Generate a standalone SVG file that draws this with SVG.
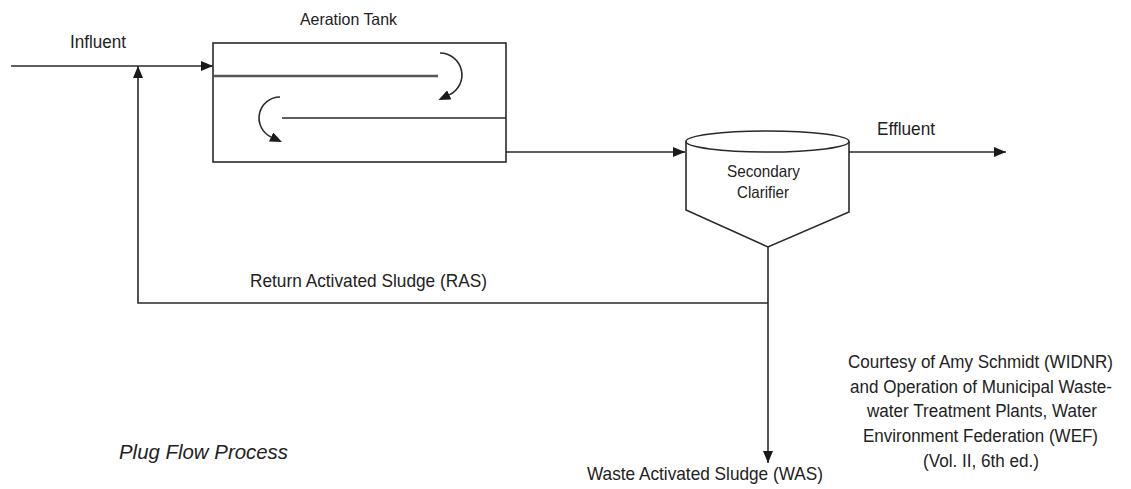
<svg xmlns="http://www.w3.org/2000/svg" width="1131" height="489" viewBox="0 0 1131 489">
  <style>
    .ln { fill: none; stroke: #2a2a2a; stroke-width: 1.6; }
    .shape { fill: #ffffff; stroke: #2a2a2a; stroke-width: 1.6; }
    .t { font-family: "Liberation Sans", Arial, sans-serif; fill: #222; }
    .s17 { font-size: 18.5px; }
    .s15 { font-size: 16.5px; }
    .cr { font-size: 17.5px; }
  </style>
  <defs>
    <marker id="ah" viewBox="0 0 12 10" refX="12" refY="5" markerWidth="12" markerHeight="10" markerUnits="userSpaceOnUse" orient="auto">
      <path d="M0,0 L12,5 L0,10 z" fill="#1a1a1a"/>
    </marker>
    <marker id="ahb" viewBox="0 0 12 10" refX="0" refY="5" markerWidth="12" markerHeight="10" markerUnits="userSpaceOnUse" orient="auto">
      <path d="M0,0 L12,5 L0,10 z" fill="#1a1a1a"/>
    </marker>
  </defs>
  <rect width="1131" height="489" fill="#ffffff"/>

  <g id="connectors">
    <path class="ln" d="M11,66 H213" marker-end="url(#ah)"/>
    <path class="ln" d="M768,303 H138 V66" marker-end="url(#ah)"/>
    <path class="ln" d="M506,152 H685" marker-end="url(#ah)"/>
    <path class="ln" d="M849,152 H1006" marker-end="url(#ah)"/>
    <path class="ln" d="M768,247 V463" marker-end="url(#ah)"/>
  </g>

  <g id="aeration-tank">
    <rect class="shape" x="213" y="43" width="293" height="119"/>
    <line x1="213" y1="76" x2="438" y2="76" stroke="#555" stroke-width="2.4"/>
    <line x1="282" y1="118" x2="506" y2="118" stroke="#2a2a2a" stroke-width="1.6"/>
    <path class="ln" d="M440,53 A22,22 0 0 1 449.3,94.9" marker-end="url(#ahb)"/>
    <path class="ln" d="M280,97 A21,21 0 0 0 271.1,137" marker-end="url(#ahb)"/>
    <text class="t s15" x="300" y="25" textLength="97" lengthAdjust="spacingAndGlyphs">Aeration Tank</text>
  </g>

  <g id="secondary-clarifier">
    <path class="shape" d="M686,141.5 L686,210 L768,247 L849,212 L849,141.5"/>
    <ellipse class="shape" cx="767.5" cy="141.5" rx="81.5" ry="10.5"/>
    <text class="t s15" x="727" y="177" textLength="73" lengthAdjust="spacingAndGlyphs" fill="#333">Secondary</text>
    <text class="t s15" x="737" y="198" textLength="52" lengthAdjust="spacingAndGlyphs" fill="#333">Clarifier</text>
  </g>

  <g id="labels">
    <text class="t s17" x="70" y="48" textLength="56" lengthAdjust="spacingAndGlyphs">Influent</text>
    <text class="t s17" x="877" y="135" textLength="58" lengthAdjust="spacingAndGlyphs">Effluent</text>
    <text class="t s17" x="250" y="287" textLength="237" lengthAdjust="spacingAndGlyphs">Return Activated Sludge (RAS)</text>
    <text class="t s17" x="587" y="480" textLength="236" lengthAdjust="spacingAndGlyphs">Waste Activated Sludge (WAS)</text>
    <text class="t" x="119" y="459" font-size="20.5" font-style="italic" textLength="169" lengthAdjust="spacingAndGlyphs">Plug Flow Process</text>
  </g>

  <g id="credit">
    <text class="t cr" x="848" y="368" textLength="265" lengthAdjust="spacingAndGlyphs">Courtesy of Amy Schmidt (WIDNR)</text>
    <text class="t cr" x="850" y="393" textLength="262" lengthAdjust="spacingAndGlyphs">and Operation of Municipal Waste-</text>
    <text class="t cr" x="867" y="417" textLength="230" lengthAdjust="spacingAndGlyphs">water Treatment Plants, Water</text>
    <text class="t cr" x="863" y="442" textLength="235" lengthAdjust="spacingAndGlyphs">Environment Federation (WEF)</text>
    <text class="t cr" x="923" y="467" textLength="116" lengthAdjust="spacingAndGlyphs">(Vol. II, 6th ed.)</text>
  </g>
</svg>
